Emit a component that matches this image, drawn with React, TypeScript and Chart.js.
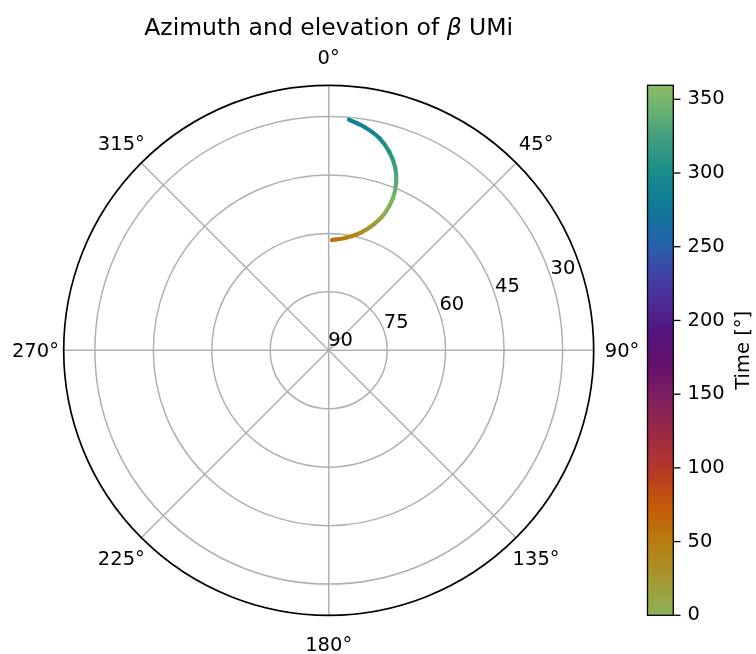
import React, { useEffect, useRef } from "react";
import { Chart, registerables } from "chart.js";

Chart.register(...registerables);

// ---------------- data ----------------
const AZIMUTH_DEG = [5.0, 9.2, 13.4, 17.0, 20.0, 22.0, 22.9, 22.3, 19.8, 15.1, 8.3, 1.7];
const ELEVATION_DEG = [30.6, 32.0, 34.0, 36.8, 40.1, 43.8, 47.8, 51.9, 55.6, 58.8, 60.9, 61.7];
const TIME_DEG = [282, 289, 297, 309, 322, 336, 351, 6, 21, 36, 50, 60];

const AZIMUTH_TICKS = [0, 45, 90, 135, 180, 225, 270, 315];
const AZIMUTH_TICK_LABELS = ["0°", "45°", "90°", "135°", "180°", "225°", "270°", "315°"];
const ELEVATION_TICKS = [90, 75, 60, 45, 30];
const ELEVATION_TICK_LABELS = ["90", "75", "60", "45", "30"];
const ELEVATION_EDGE = 22;
const TIME_MIN = 0;
const TIME_MAX = 359.5;
const TIME_TICK_STEP = 50;
const TITLE_PARTS = ["Azimuth and elevation of ", "β", " UMi"];
const COLORBAR_LABEL = "Time [°]";

// ---------------- colormap (cyclic, sampled from the colorbar) ----------------
const CMAP_STOPS = [0, 15, 30, 50, 70, 85, 100, 110, 125, 150, 170, 190, 210, 230, 250, 270, 285, 300, 325, 340, 359.5];
const CMAP_COLORS = [
  [140, 178, 90], [155, 163, 65], [170, 145, 40], [185, 125, 15], [197, 95, 5],
  [190, 75, 20], [180, 55, 40], [172, 48, 55], [155, 40, 70], [125, 30, 100],
  [100, 15, 110], [85, 18, 122], [78, 40, 150], [65, 65, 170], [40, 95, 172],
  [15, 115, 155], [15, 128, 150], [25, 140, 140], [65, 160, 125], [100, 175, 115],
  [140, 187, 100],
];

function cmap(v: number): string {
  const t = Math.max(TIME_MIN, Math.min(TIME_MAX, v));
  for (let i = 0; i < CMAP_STOPS.length - 1; i++) {
    const a = CMAP_STOPS[i], b = CMAP_STOPS[i + 1];
    if (t >= a && t <= b) {
      const f = (t - a) / (b - a);
      const c0 = CMAP_COLORS[i], c1 = CMAP_COLORS[i + 1];
      const c = c0.map((x, k) => Math.round(x + (c1[k] - x) * f));
      return `rgb(${c[0]},${c[1]},${c[2]})`;
    }
  }
  const c = CMAP_COLORS[CMAP_COLORS.length - 1];
  return `rgb(${c[0]},${c[1]},${c[2]})`;
}

const R_MAX = 90 - ELEVATION_EDGE;
const FONT = '"DejaVu Sans", "Liberation Sans", sans-serif';
const TICK_SIZE = 19.5;
const TITLE_SIZE = 23.5;
const CB_WIDTH = 162.3;
const CB_BAR_LEFT = 647.5;
const CB_BAR_RIGHT = 673.3;
const CB_TICK_LEN = 7.2;

const toRad = (d: number) => (d * Math.PI) / 180;

const polarPlugin = {
  id: "polarDecor",
  beforeDatasetsDraw(chart: any) {
    const { ctx, scales } = chart;
    const xs = scales.x, ys = scales.y;
    const pt = (r: number, az: number) => [
      xs.getPixelForValue(r * Math.sin(toRad(az))),
      ys.getPixelForValue(r * Math.cos(toRad(az))),
    ];
    const cx = xs.getPixelForValue(0), cy = ys.getPixelForValue(0);
    ctx.save();
    ctx.strokeStyle = "#b0b0b0";
    ctx.lineWidth = 1.5;
    for (const el of ELEVATION_TICKS) {
      const r = 90 - el;
      if (r <= 0) continue;
      const rp = xs.getPixelForValue(r) - cx;
      ctx.beginPath();
      ctx.arc(cx, cy, rp, 0, Math.PI * 2);
      ctx.stroke();
    }
    for (const az of AZIMUTH_TICKS) {
      const [x, y] = pt(R_MAX, az);
      ctx.beginPath();
      ctx.moveTo(cx, cy);
      ctx.lineTo(x, y);
      ctx.stroke();
    }
    ctx.restore();
  },
  afterDatasetsDraw(chart: any) {
    const { ctx, scales } = chart;
    const xs = scales.x, ys = scales.y, cb = scales.cb;
    const cx = xs.getPixelForValue(0), cy = ys.getPixelForValue(0);
    const R = xs.getPixelForValue(R_MAX) - cx;
    ctx.save();
    // outer spine
    ctx.strokeStyle = "#000";
    ctx.lineWidth = 1.7;
    ctx.beginPath();
    ctx.arc(cx, cy, R, 0, Math.PI * 2);
    ctx.stroke();

    ctx.fillStyle = "#000";
    ctx.font = `${TICK_SIZE}px ${FONT}`;
    // azimuth labels
    ctx.textAlign = "center";
    ctx.textBaseline = "alphabetic";
    const lr = R + 28.3;
    AZIMUTH_TICKS.forEach((az, i) => {
      const x = cx + lr * Math.sin(toRad(az));
      const y = cy - lr * Math.cos(toRad(az));
      ctx.fillText(AZIMUTH_TICK_LABELS[i], x, y + TICK_SIZE * 0.3645);
    });
    // elevation labels
    ctx.textAlign = "left";
    ELEVATION_TICKS.forEach((el, i) => {
      const r = 90 - el;
      const x = xs.getPixelForValue(r * Math.sin(toRad(72)));
      const y = ys.getPixelForValue(r * Math.cos(toRad(72)));
      ctx.fillText(ELEVATION_TICK_LABELS[i], x - 0.5, y - 4);
    });

    // title
    const fonts = [`${TITLE_SIZE}px ${FONT}`, `italic ${TITLE_SIZE}px ${FONT}`, `${TITLE_SIZE}px ${FONT}`];
    const widths = TITLE_PARTS.map((s, i) => {
      ctx.font = fonts[i];
      return ctx.measureText(s).width;
    });
    const total = widths.reduce((a, b) => a + b, 0);
    let tx = cx - total / 2;
    ctx.textAlign = "left";
    TITLE_PARTS.forEach((s, i) => {
      ctx.font = fonts[i];
      ctx.fillText(s, tx, 35);
      tx += widths[i];
    });

    // colorbar
    const top = cb.getPixelForValue(TIME_MAX);
    const bottom = cb.getPixelForValue(TIME_MIN);
    const grad = ctx.createLinearGradient(0, bottom, 0, top);
    CMAP_STOPS.forEach((s) => grad.addColorStop((s - TIME_MIN) / (TIME_MAX - TIME_MIN), cmap(s)));
    ctx.fillStyle = grad;
    ctx.fillRect(CB_BAR_LEFT, top, CB_BAR_RIGHT - CB_BAR_LEFT, bottom - top);
    ctx.strokeStyle = "#000";
    ctx.lineWidth = 1.3;
    ctx.strokeRect(CB_BAR_LEFT, top, CB_BAR_RIGHT - CB_BAR_LEFT, bottom - top);
    for (const t of cb.ticks) {
      const y = cb.getPixelForValue(t.value);
      ctx.beginPath();
      ctx.moveTo(CB_BAR_RIGHT, y);
      ctx.lineTo(CB_BAR_RIGHT + CB_TICK_LEN, y);
      ctx.stroke();
    }
    // colorbar label
    ctx.fillStyle = "#000";
    ctx.font = `${TICK_SIZE}px ${FONT}`;
    ctx.translate(748.5, (top + bottom) / 2);
    ctx.rotate(-Math.PI / 2);
    ctx.textAlign = "center";
    ctx.textBaseline = "alphabetic";
    ctx.fillText(COLORBAR_LABEL, 0, 0);
    ctx.restore();
  },
};

export default function App() {
  const ref = useRef<HTMLCanvasElement | null>(null);
  useEffect(() => {
    if (!ref.current) return;
    Chart.defaults.font.family = FONT;
    const points = AZIMUTH_DEG.map((az, i) => {
      const r = 90 - ELEVATION_DEG[i];
      return { x: r * Math.sin(toRad(az)), y: r * Math.cos(toRad(az)) };
    });
    const chart = new Chart(ref.current, {
      type: "line",
      data: {
        datasets: [
          {
            data: points,
            borderWidth: 4.2,
            pointRadius: 0,
            pointHoverRadius: 0,
            tension: 0.4,
            fill: false,
            borderCapStyle: "round",
            borderJoinStyle: "round",
            borderColor: cmap(TIME_DEG[0]),
            segment: {
              borderColor: (c: any) => {
                const g = c.chart.ctx.createLinearGradient(c.p0.x, c.p0.y, c.p1.x, c.p1.y);
                g.addColorStop(0, cmap(TIME_DEG[c.p0DataIndex]));
                g.addColorStop(1, cmap(TIME_DEG[c.p1DataIndex]));
                return g;
              },
              borderDashOffset: (c: any) => c.p0DataIndex * 0.001,
            },
          } as any,
        ],
      },
      options: {
        animation: false,
        responsive: false,
        devicePixelRatio: 1,
        layout: { padding: { left: 63.7, top: 85.3, right: 0, bottom: 38.7 } },
        plugins: { legend: { display: false }, tooltip: { enabled: false }, title: { display: false } },
        events: [],
        scales: {
          x: { type: "linear", display: false, min: -R_MAX, max: R_MAX },
          y: { type: "linear", display: false, min: -R_MAX, max: R_MAX },
          cb: {
            type: "linear",
            axis: "y",
            position: "right",
            display: true,
            min: TIME_MIN,
            max: TIME_MAX,
            afterFit: (s: any) => {
              s.width = CB_WIDTH;
            },
            grid: { display: false, drawTicks: true, tickLength: 86.8 },
            border: { display: false },
            ticks: {
              stepSize: TIME_TICK_STEP,
              includeBounds: false,
              padding: 7,
              color: "#000",
              font: { family: FONT, size: TICK_SIZE },
            },
          } as any,
        },
      },
      plugins: [polarPlugin],
    });
    return () => chart.destroy();
  }, []);
  return (
    <div style={{ position: "absolute", left: 0, top: 0, width: 756, height: 654, background: "#fff" }}>
      <canvas ref={ref} width={756} height={654} style={{ display: "block" }} />
    </div>
  );
}
